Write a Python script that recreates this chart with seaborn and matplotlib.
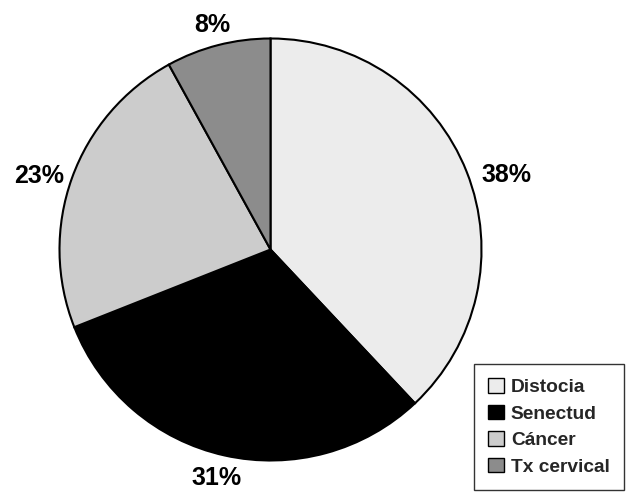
import matplotlib
matplotlib.use("Agg")
import seaborn as sns
from matplotlib import pyplot as plt

categories = ['Distocia', 'Senectud', 'Cáncer', 'Tx cervical']
values = [38, 31, 23, 8]
colors = ['#ececec', '#000000', '#cccccc', '#8c8c8c']
# where each percent label sits, in pie radii from the centre (text baseline)
label_x = [1.118, -0.256, -1.097, -0.277]
label_y = [0.320, -1.118, 0.315, 1.031]

sns.set_style("white")
plt.rcParams['font.family'] = ['Liberation Sans', 'DejaVu Sans']

W, H = 627, 493
fig = plt.figure(figsize=(W / 100, H / 100), dpi=100)
cx, cy, r = 270.5, 249.5, 211
ax = fig.add_axes([(cx - r) / W, (H - cy - r) / H, 2 * r / W, 2 * r / H])

wedges, texts, autotexts = ax.pie(
    values, colors=colors, startangle=90, counterclock=False,
    autopct='%1.0f%%', pctdistance=1.14,
    wedgeprops=dict(edgecolor='black', linewidth=1.5),
    textprops=dict(fontsize=18, fontweight='bold', color='black'),
)
for t, x, y in zip(autotexts, label_x, label_y):
    t.set_position((x, y))
    t.set_ha('center')
    t.set_va('baseline')
    t.set_clip_on(False)
ax.set_aspect('equal')
ax.set_xlim(-1, 1)
ax.set_ylim(-1, 1)
ax.axis('off')

leg = fig.legend(wedges, categories, loc='lower right',
                 bbox_to_anchor=(624 / W, (H - 490) / H),
                 frameon=True, fancybox=False, handlelength=0.8, handleheight=0.8,
                 handletextpad=0.37, borderpad=0.75, labelspacing=0.44,
                 borderaxespad=0.0,
                 prop=dict(size=13.8, weight='bold'))
leg.get_frame().set_edgecolor('black')
leg.get_frame().set_linewidth(1.0)
for h in leg.legend_handles:
    h.set_linewidth(1.0)
    h.set_edgecolor('black')

fig.savefig('out.png', dpi=100)
